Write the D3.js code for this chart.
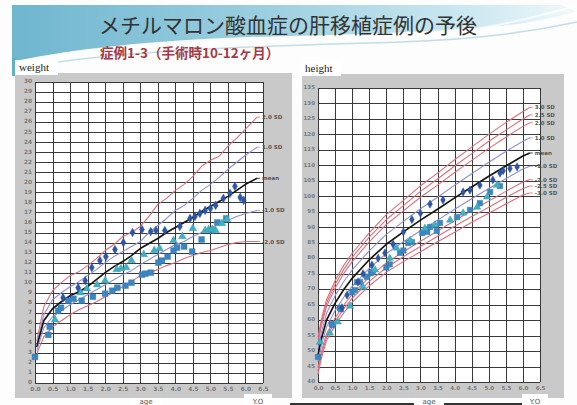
<!DOCTYPE html>
<html>
<head>
<meta charset="utf-8">
<script src="https://cdn.jsdelivr.net/npm/d3@7"></script>
<style>
  html, body { margin: 0; padding: 0; background: #fdfdfd; }
  svg { display: block; }
</style>
</head>
<body>
<svg id="chart" width="577" height="405"></svg>
<script>
// ---------- tick labels ----------
const ageTicks = [0, 0.5, 1, 1.5, 2, 2.5, 3, 3.5, 4, 4.5, 5, 5.5, 6, 6.5];
const weightTicks = [0,1,2,3,4,5,6,7,8,9,10,11,12,13,14,15,16,17,18,19,20,21,22,23,24,25,26,27,28,29,30];
const heightTicks = [40,45,50,55,60,65,70,75,80,85,90,95,100,105,110,115,120,125,130,135];

// ---------- weight reference curves (kg) ----------
const wAges   = [0.05,0.25,0.5,0.75,1.0,1.25,1.5,1.75,2.0,2.25,2.5,2.75,3.0,3.25,3.5,3.75,4.0,4.25,4.5,4.75,5.0,5.25,5.5,5.75,6.0,6.33];
const wPlus2  = [4.2,7.6,9.2,10.0,10.7,11.1,11.7,12.4,13.2,13.8,14.6,15.0,15.6,16.6,17.8,18.4,19.2,19.8,20.6,21.6,22.2,22.6,23.6,24.4,25.3,26.5];
const wPlus1  = [3.9,6.8,8.3,9.0,9.6,10.1,10.7,11.3,12.0,12.6,13.1,13.6,14.1,15.0,15.7,16.4,17.2,17.7,18.4,19.2,19.8,20.5,21.3,22.0,22.7,23.5];
const wMean   = [3.6,6.2,7.4,8.1,8.7,9.1,9.6,10.3,11.0,11.6,12.1,12.7,13.4,13.9,14.4,15.0,15.5,16.0,16.5,17.1,17.6,18.1,18.6,19.2,19.8,20.4];
const wMinus1 = [3.2,5.5,6.6,7.2,7.8,8.3,8.8,9.3,9.8,10.3,10.8,11.2,11.8,12.3,12.8,13.3,13.8,14.1,14.6,15.0,15.4,15.9,16.2,16.6,16.9,17.2];
const wMinus2 = [2.9,4.6,5.6,6.2,6.8,7.3,7.7,8.1,8.6,9.1,9.6,10.1,10.7,11.0,11.3,11.7,12.0,12.4,12.7,13.0,13.2,13.5,13.8,14.0,14.1,14.1];

// ---------- weight of the three cases [age, kg] ----------
const wCase1 = [[0.80,8.5],[1.23,9.5],[1.43,10.2],[1.62,11.5],[1.85,12.2],[2.02,12.6],[2.28,13.3],[2.52,14.0],[2.78,15.0],[3.05,15.3],[3.30,15.1],[3.45,15.2],[3.70,15.2],[4.13,15.6],[4.42,16.4],[4.56,16.6],[4.70,16.9],[4.85,17.2],[5.00,17.4],[5.15,17.7],[5.37,18.4],[5.56,18.9],[5.70,19.6],[5.85,18.5],[5.95,18.2]];
const wCase2 = [[0.57,6.3],[1.30,9.0],[1.48,9.4],[1.77,9.8],[2.00,10.2],[2.33,11.3],[2.45,11.4],[2.60,11.5],[2.75,12.2],[3.10,12.8],[3.40,13.2],[3.55,13.4],[3.95,14.2],[4.20,14.6],[4.50,15.4],[4.85,15.2],[4.95,15.3],[5.05,15.3],[5.15,15.2],[5.33,15.9],[5.47,16.3]];
const wCase3 = [[0.00,2.6],[0.38,4.8],[0.42,5.6],[0.66,7.2],[0.74,7.5],[0.95,8.2],[1.10,8.4],[1.33,8.2],[1.65,8.6],[2.00,8.9],[2.20,9.2],[2.35,9.5],[2.58,9.7],[2.75,10.0],[3.05,10.8],[3.15,10.9],[3.30,11.0],[3.52,12.0],[3.62,12.2],[3.78,12.6],[3.95,13.2],[4.05,13.5],[4.25,13.6],[4.48,13.1],[4.75,14.3],[5.05,15.2],[5.20,16.0],[5.45,16.4]];

// ---------- height reference curves (cm) ----------
const hAges    = [0,0.1,0.25,0.5,0.75,1,1.5,2,2.5,3,3.5,4,4.5,5,5.5,6,6.2];
const hPlus3   = [54.5,60.3,66.6,72.7,77.6,81.6,88.2,94.1,98.7,103.4,107.5,111.8,115.9,120.0,123.8,127.4,128.7];
const hPlus25  = [53.5,59.3,65.5,71.5,76.3,80.3,86.8,92.5,97.0,101.6,105.6,109.8,113.8,117.8,121.4,125.0,126.3];
const hPlus2   = [52.5,58.2,64.4,70.3,75.0,78.9,85.3,90.9,95.3,99.7,103.6,107.7,111.6,115.5,119.1,122.6,123.8];
const hPlus1   = [50.5,56.1,62.2,67.9,72.4,76.2,82.4,87.7,91.9,96.0,99.7,103.6,107.3,111.0,114.5,117.8,118.9];
const hMean    = [48.5,54.0,60.0,65.5,69.8,73.5,79.5,84.5,88.5,92.3,95.8,99.5,103.0,106.5,109.8,113.0,114.0];
const hMinus1  = [46.5,51.9,57.8,63.1,67.3,70.9,76.7,81.5,85.3,88.9,92.3,95.8,99.2,102.5,105.7,108.8,109.7];
const hMinus2  = [44.5,49.8,55.6,60.7,64.8,68.3,73.9,78.5,82.1,85.5,88.8,92.1,95.4,98.5,101.6,104.6,105.4];
const hMinus25 = [43.5,48.8,54.5,59.5,63.6,67.0,72.5,77.0,80.5,83.8,87.1,90.3,93.5,96.5,99.6,102.5,103.3];
const hMinus3  = [42.5,47.7,53.4,58.3,62.3,65.7,71.1,75.5,78.9,82.1,85.3,88.4,91.6,94.5,97.5,100.4,101.1];

// ---------- height of the three cases [age, cm] ----------
const hCase1 = [[0.70,64.0],[0.85,68.1],[1.17,72.3],[1.32,75.0],[1.58,77.8],[1.76,80.0],[1.96,81.7],[2.20,84.5],[2.50,88.5],[2.75,92.5],[3.00,94.5],[3.28,97.5],[3.66,98.8],[4.25,101.4],[4.45,102.0],[4.74,103.6],[5.12,105.3],[5.33,107.5],[5.42,108.3],[5.62,109.0],[5.83,109.5]];
const hCase2 = [[0.06,52.9],[0.35,55.8],[0.58,59.4],[0.94,64.5],[1.32,70.7],[1.67,76.2],[2.10,80.0],[2.30,83.3],[2.70,85.8],[3.13,89.7],[3.43,90.7],[3.87,92.3],[4.25,94.6],[4.66,96.5],[4.95,99.8],[5.24,103.6]];
const hCase3 = [[0.00,48.1],[0.40,58.7],[0.44,58.4],[0.64,64.0],[0.67,63.5],[1.00,69.0],[1.08,69.7],[1.14,72.3],[1.23,72.3],[1.43,74.0],[1.55,75.2],[1.60,75.5],[2.00,77.0],[2.10,78.0],[2.40,81.7],[2.50,82.5],[2.64,84.9],[2.75,85.2],[3.05,88.1],[3.20,88.5],[3.28,90.1],[3.48,88.8],[3.57,91.4],[4.07,93.3],[4.45,95.6],[4.74,97.8],[5.04,101.4],[5.33,103.3]];

// ---------- styles ----------
const RED = "#d9707c", PURPLE = "#8f8fd2", BLACK = "#151515";
const C_DIAMOND = "#2d55a8", C_TRIANGLE = "#3fb0c4", C_SQUARE = "#3a86c4";
const GRID = "#3a3a3a", PANEL = "#c9c9c9";

const svg = d3.select("#chart");
const defs = svg.append("defs");

// ---------- banner ----------
const band = defs.append("linearGradient").attr("id", "band").attr("x1", 0).attr("x2", 1).attr("y1", 0).attr("y2", 0);
band.append("stop").attr("offset", 0).attr("stop-color", "#6fb6cf");
band.append("stop").attr("offset", 0.45).attr("stop-color", "#9ccfe0");
band.append("stop").attr("offset", 0.85).attr("stop-color", "#d3ebf3");
band.append("stop").attr("offset", 1).attr("stop-color", "#f2f9fb");

svg.append("path")
  .attr("d", "M12,5 L560,5 C575,8 577,14 577,16 C500,30 380,34 250,37 C150,40 70,50 20,60 L12,62 Z")
  .attr("fill", "url(#band)");
svg.append("path")
  .attr("d", "M40,62 C120,44 260,40 380,38 C470,36 530,26 577,14")
  .attr("fill", "none").attr("stroke", "#ffffff").attr("stroke-width", 4).attr("opacity", 0.9);
svg.append("path")
  .attr("d", "M30,66 C140,48 280,46 400,42 C480,40 540,30 577,22")
  .attr("fill", "none").attr("stroke", "#a9cfdb").attr("stroke-width", 1.5).attr("opacity", 0.7);
svg.append("path")
  .attr("d", "M470,30 C510,24 545,14 577,6")
  .attr("fill", "none").attr("stroke", "#ffffff").attr("stroke-width", 2).attr("opacity", 0.7);
svg.append("rect").attr("x", 12).attr("y", 58).attr("width", 5).attr("height", 18).attr("fill", "#5fb0c8");

svg.append("text")
  .attr("x", 288).attr("y", 33)
  .attr("text-anchor", "middle")
  .attr("font-family", "'Noto Sans CJK JP', sans-serif")
  .attr("font-size", 21).attr("fill", "#333")
  .text("メチルマロン酸血症の肝移植症例の予後");

svg.append("text")
  .attr("x", 100).attr("y", 58)
  .attr("font-family", "'Noto Sans CJK JP', sans-serif")
  .attr("font-weight", "bold")
  .attr("font-size", 13.5).attr("fill", "#a63a44")
  .text("症例1-3（手術時10-12ヶ月）");

// ---------- one growth-chart panel ----------
function drawPanel(cfg) {
  const g = svg.append("g");
  const x = cfg.x, y = cfg.y;
  const [x0, x1] = x.range();
  const [yb, yt] = y.range();

  // grey frame and its name tab
  g.append("rect").attr("x", cfg.frame[0]).attr("y", cfg.frame[1])
    .attr("width", cfg.frame[2] - cfg.frame[0]).attr("height", cfg.frame[3] - cfg.frame[1])
    .attr("fill", PANEL);
  g.append("rect").attr("x", cfg.tab[0]).attr("y", cfg.tab[1])
    .attr("width", cfg.tab[2]).attr("height", cfg.tab[3]).attr("fill", "#ffffff");
  g.append("text").attr("x", cfg.tab[0] + 4).attr("y", cfg.tab[1] + cfg.tab[3] - 4)
    .attr("font-family", "'Liberation Serif', serif").attr("font-size", 11).attr("fill", "#222")
    .text(cfg.name);

  // plot area
  g.append("rect").attr("x", x0).attr("y", yt).attr("width", x1 - x0).attr("height", yb - yt).attr("fill", "#fff");

  // grid
  const grid = g.append("g").attr("stroke", GRID).attr("stroke-width", 1);
  cfg.yTicks.forEach(v => {
    const yy = Math.round(y(v)) + 0.5;
    grid.append("line").attr("x1", x0).attr("x2", x1).attr("y1", yy).attr("y2", yy);
  });
  ageTicks.forEach(v => {
    const xx = Math.round(x(v)) + 0.5;
    grid.append("line").attr("x1", xx).attr("x2", xx).attr("y1", yt).attr("y2", yb);
  });

  // axes labels
  const yAxis = d3.axisLeft(y).tickValues(cfg.yTicks).tickSize(0).tickPadding(3).tickFormat(d3.format("d"));
  const ya = g.append("g").attr("transform", `translate(${x0},-1)`).call(yAxis);
  const xAxis = d3.axisBottom(x).tickValues(ageTicks).tickSize(0).tickPadding(4).tickFormat(d3.format(".1f"));
  const xa = g.append("g").attr("transform", `translate(0,${yb})`).call(xAxis);
  [ya, xa].forEach(a => {
    a.select(".domain").remove();
    a.selectAll("text").attr("font-family", "'DejaVu Sans', sans-serif")
      .attr("font-weight", "bold").attr("font-size", cfg.tickSize).attr("fill", "#7a7a7a");
  });

  // reference curves with their end labels
  const line = d3.line().x(d => x(d[0])).y(d => y(d[1]));
  cfg.curves.forEach(c => {
    const pts = cfg.ages.map((a, i) => [a, c.vals[i]]);
    g.append("path").attr("d", line(pts)).attr("fill", "none")
      .attr("stroke", c.color).attr("stroke-width", c.width || 1.1).attr("stroke-linejoin", "round");
    const last = pts[pts.length - 1];
    g.append("line").attr("x1", x(last[0])).attr("y1", y(last[1]))
      .attr("x2", x(last[0]) + 3).attr("y2", y(last[1]))
      .attr("stroke", c.color).attr("stroke-width", 0.8);
    g.append("text").attr("x", x(last[0]) + 5).attr("y", y(last[1]) + 2)
      .attr("font-family", "'DejaVu Sans', sans-serif").attr("font-weight", "bold")
      .attr("font-size", 5.5).attr("fill", "#555").text(c.label);
  });

  // case markers
  const sym = (type, size) => d3.symbol().type(type).size(size)();
  cfg.cases.forEach(s => {
    g.append("g").selectAll("path").data(s.data).join("path")
      .attr("transform", d => `translate(${x(d[0])},${y(d[1])})`)
      .attr("d", sym(s.type, s.size))
      .attr("fill", s.color).attr("stroke", d3.color(s.color).darker(0.4)).attr("stroke-width", 0.4);
  });

  // bottom tabs with axis names
  cfg.bottom.forEach(b => {
    g.append("rect").attr("x", b.x).attr("y", b.y).attr("width", b.w).attr("height", 405 - b.y).attr("fill", "#fff");
    g.append("text").attr("x", b.x + b.w / 2).attr("y", 404).attr("text-anchor", "middle")
      .attr("font-family", "'DejaVu Sans', sans-serif").attr("font-size", 7).attr("fill", "#555").text(b.text);
  });
}

// ---------- weight ----------
drawPanel({
  name: "weight",
  x: d3.scaleLinear().domain([0, 6.5]).range([35, 263]),
  y: d3.scaleLinear().domain([0, 30]).range([383, 82]),
  frame: [15, 73, 292, 398],
  tab: [15, 60, 43, 15],
  yTicks: weightTicks, tickSize: 5.8,
  ages: wAges,
  curves: [
    { vals: wPlus2, color: RED, label: "2.0 SD" },
    { vals: wPlus1, color: PURPLE, label: "1.0 SD" },
    { vals: wMean, color: BLACK, label: "mean", width: 1.7 },
    { vals: wMinus1, color: PURPLE, label: "-1.0 SD" },
    { vals: wMinus2, color: RED, label: "-2.0 SD" }
  ],
  cases: [
    { data: wCase3, type: d3.symbolSquare, size: 34, color: C_SQUARE },
    { data: wCase2, type: d3.symbolTriangle, size: 26, color: C_TRIANGLE },
    { data: wCase1, type: d3.symbolDiamond, size: 22, color: C_DIAMOND }
  ],
  bottom: [{ x: 130, y: 398, w: 32, text: "age" }, { x: 244, y: 394, w: 28, text: "Y.O" }]
});

// ---------- height ----------
drawPanel({
  name: "height",
  x: d3.scaleLinear().domain([0, 6.5]).range([318, 540]),
  y: d3.scaleLinear().domain([40, 135]).range([382, 88]),
  frame: [302, 74, 564, 398],
  tab: [301, 61, 40, 15],
  yTicks: heightTicks, tickSize: 5.5,
  ages: hAges,
  curves: [
    { vals: hPlus3, color: RED, label: "3.0 SD" },
    { vals: hPlus25, color: RED, label: "2.5 SD" },
    { vals: hPlus2, color: RED, label: "2.0 SD" },
    { vals: hPlus1, color: PURPLE, label: "1.0 SD" },
    { vals: hMean, color: BLACK, label: "mean", width: 1.7 },
    { vals: hMinus1, color: PURPLE, label: "-1.0 SD" },
    { vals: hMinus2, color: RED, label: "-2.0 SD" },
    { vals: hMinus25, color: RED, label: "-2.5 SD" },
    { vals: hMinus3, color: RED, label: "-3.0 SD" }
  ],
  cases: [
    { data: hCase3, type: d3.symbolSquare, size: 30, color: C_SQUARE },
    { data: hCase2, type: d3.symbolTriangle, size: 24, color: C_TRIANGLE },
    { data: hCase1, type: d3.symbolDiamond, size: 20, color: C_DIAMOND }
  ],
  bottom: [{ x: 414, y: 398, w: 30, text: "age" }, { x: 522, y: 394, w: 26, text: "Y.O" }]
});

// dark rule along the bottom edge under the height panel
svg.append("line").attr("x1", 290).attr("x2", 414).attr("y1", 404).attr("y2", 404).attr("stroke", "#333").attr("stroke-width", 2);
svg.append("line").attr("x1", 444).attr("x2", 522).attr("y1", 404).attr("y2", 404).attr("stroke", "#333").attr("stroke-width", 2);
</script>
</body>
</html>
